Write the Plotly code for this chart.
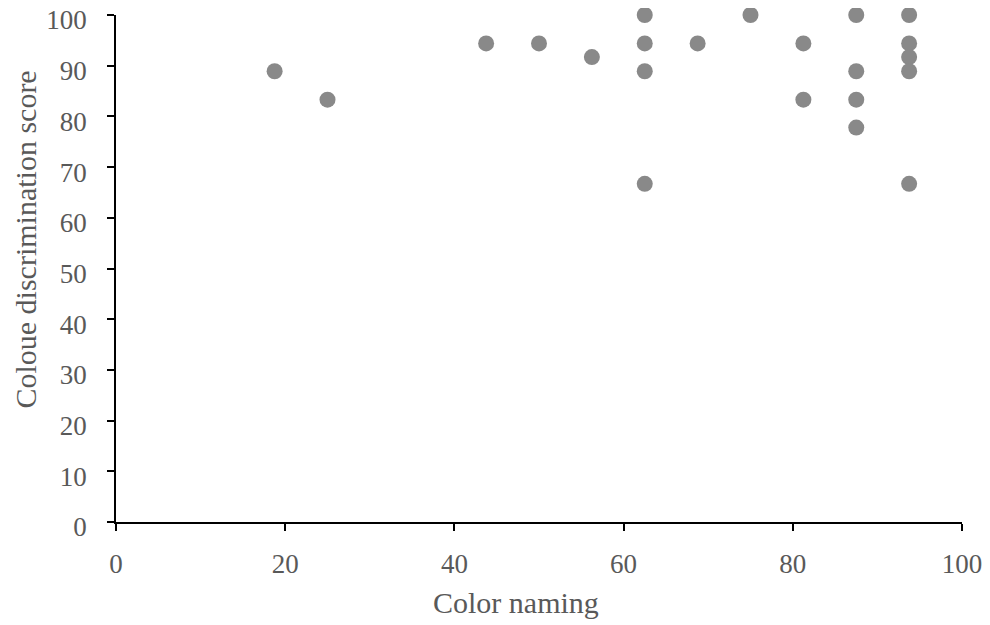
import plotly.graph_objects as go

color_naming = [18.75, 25, 43.75, 50, 56.25,
                62.5, 62.5, 62.5, 62.5,
                68.75, 75,
                81.25, 81.25,
                87.5, 87.5, 87.5, 87.5,
                93.75, 93.75, 93.75, 93.75, 93.75]
discrimination = [88.9, 83.3, 94.4, 94.4, 91.7,
                  100, 94.4, 88.9, 66.7,
                  94.4, 100,
                  94.4, 83.3,
                  100, 88.9, 83.3, 77.8,
                  100, 94.4, 91.7, 88.9, 66.7]

x_ticks = [0, 20, 40, 60, 80, 100]
y_ticks = [0, 10, 20, 30, 40, 50, 60, 70, 80, 90, 100]
x_title = "Color naming"
y_title = "Coloue discrimination score"

font_family = "Liberation Serif, Times New Roman, serif"
text_color = "#595959"
fs = 27
tfs = 30

fig = go.Figure(go.Scatter(
    x=color_naming, y=discrimination, mode="markers",
    marker=dict(size=16, color="#898989", line=dict(width=0)),
    cliponaxis=False,
))

fig.update_layout(
    width=990, height=625,
    margin=dict(l=108, r=36, t=7, b=111, autoexpand=False),
    paper_bgcolor="white", plot_bgcolor="white",
    font=dict(family=font_family, size=fs, color=text_color),
    showlegend=False,
    annotations=[
        dict(text=x_title, xref="paper", yref="paper", x=0.473, y=-0.158,
             xanchor="center", yanchor="middle", showarrow=False,
             font=dict(size=tfs, color=text_color)),
        dict(text=y_title, xref="paper", yref="paper", x=-0.107, y=0.558,
             xanchor="center", yanchor="middle", showarrow=False, textangle=-90,
             font=dict(size=tfs, color=text_color)),
    ],
)
fig.update_xaxes(
    range=[0, 100], tickvals=x_ticks, ticktext=[str(v) for v in x_ticks],
    showgrid=False, zeroline=False, showline=True, linecolor="black", linewidth=1.5,
    ticks="outside", ticklen=7, tickwidth=1.5, tickcolor="black", automargin=False,
    tickfont=dict(size=fs, color=text_color), ticklabelstandoff=10,
    ticklabeloverflow="allow",
)
fig.update_yaxes(
    range=[0, 100], tickvals=y_ticks, ticktext=[str(v) for v in y_ticks],
    showgrid=False, zeroline=False, showline=True, linecolor="black", linewidth=1.5,
    ticks="outside", ticklen=7, tickwidth=1.5, tickcolor="black", automargin=False,
    tickfont=dict(size=fs, color=text_color), ticklabelstandoff=15, ticklabelshift=5,
    ticklabeloverflow="allow",
)

fig.write_html("out.html")
